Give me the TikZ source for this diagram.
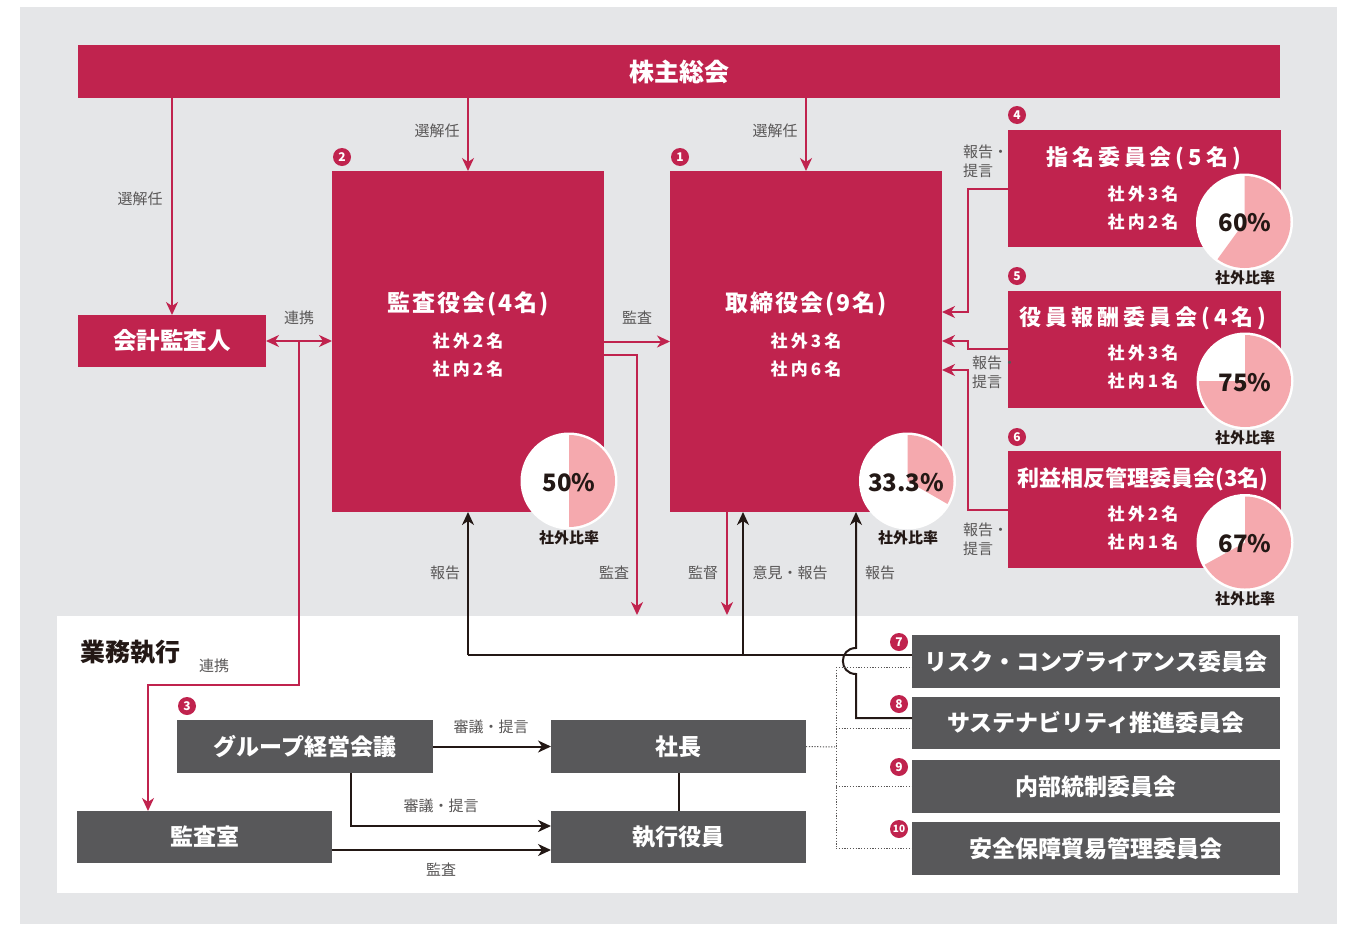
\documentclass[tikz,border=0pt]{standalone}
\usepackage{fontspec}
\setmainfont{Noto Sans CJK JP}
\usetikzlibrary{arrows.meta,calc}
\definecolor{crim}{HTML}{C0234E}
\definecolor{bgc}{HTML}{E5E6E8}
\definecolor{dgray}{HTML}{58585A}
\definecolor{pinkc}{HTML}{F5A9AE}
\definecolor{lblc}{HTML}{595757}
\definecolor{ink}{HTML}{231815}
\newcommand{\mypie}[4]{%
  \fill[white] (#2,#3) circle[radius=48.5];
  \begin{scope}[shift={(#2,#3)}, y=1pt]
    \fill[pinkc] (0,0) -- (0,46) arc[start angle=90, end angle={90-3.6*#4}, radius=46] -- cycle;
  \end{scope}
}
\tikzset{
  crbox/.style={fill=crim, inner sep=0pt, outer sep=0pt},
  gybox/.style={fill=dgray, text=white, font=\bfseries\fontsize{23}{25}\selectfont, inner sep=0pt, outer sep=0pt},
  sz/.style 2 args={minimum width=#1pt, minimum height=#2pt},
  crline/.style={draw=crim, line width=2pt},
  cra/.style={crline, -{Stealth[length=13pt,width=12pt,inset=4pt]}},
  crab/.style={crline, {Stealth[length=13pt,width=12pt,inset=4pt]}-{Stealth[length=13pt,width=12pt,inset=4pt]}},
  bkline/.style={draw=ink, line width=2pt},
  bka/.style={bkline, -{Stealth[length=13pt,width=12pt,inset=4pt]}},
  dotln/.style={draw=lblc, line width=1pt, dash pattern=on 1.2pt off 1.6pt},
  lbl/.style={text=lblc, font=\fontsize{15}{19}\selectfont, inner sep=0pt},
  maintitle/.style={text=white, font=\bfseries\fontsize{23}{25}\selectfont\addfontfeature{LetterSpace=8}, inner sep=0pt},
  comtitle/.style={text=white, font=\bfseries\fontsize{22}{24}\selectfont\addfontfeature{LetterSpace=18}, inner sep=0pt},
  subtxt/.style={text=white, font=\bfseries\fontsize{17}{19}\selectfont\addfontfeature{LetterSpace=18}, inner sep=0pt},
  pct/.style={text=ink, font=\bfseries\fontsize{24}{26}\selectfont, inner sep=0pt},
  ratio/.style={text=ink, font=\bfseries\fontsize{15}{17}\selectfont, inner sep=0pt},
  badge/.style={circle, fill=crim, text=white, font=\bfseries\fontsize{12}{12}\selectfont, minimum size=18pt, inner sep=0pt},
}
\begin{document}
\begin{tikzpicture}[x=1pt,y=-1pt]
\useasboundingbox (0,0) rectangle (1352,924);
\fill[white] (0,0) rectangle (1352,924);
\fill[bgc] (20,7) rectangle (1337,924);
\fill[white] (57,616) rectangle (1298,893);

% ---------- crimson boxes
\node[crbox, sz={1202}{53}, text=white, font=\bfseries\fontsize{25}{27}\selectfont] (sh) at (679,71.5) {株主総会};
\node[crbox, sz={188}{52}, text=white, font=\bfseries\fontsize{23.5}{25}\selectfont] (ka) at (172,341) {会計監査人};
\node[crbox, sz={272}{341}] (kansa) at (468,341.5) {};
\node[crbox, sz={272}{341}] (tori) at (806,341.5) {};
\node[crbox, sz={273}{117}] (shimei) at (1144.5,188.5) {};
\node[crbox, sz={273}{117}] (houshu) at (1144.5,349.5) {};
\node[crbox, sz={273}{117}] (rieki) at (1144.5,509.5) {};

% texts in crimson boxes
\node[maintitle] (kansaT) at (468,304) {監査役会(4\hspace{2pt}名)};
\node[subtxt] (kansaA) at (468,341) {社外2名};
\node[subtxt] (kansaB) at (468,369) {社内2名};
\node[maintitle] (toriT) at (806,304) {取締役会(9\hspace{2pt}名)};
\node[subtxt] (toriA) at (806,341) {社外3名};
\node[subtxt] (toriB) at (806,369) {社内6名};
\node[comtitle] (shimeiT) at (1143.5,158) {指名委員会(5名)};
\node[subtxt] (shimeiA) at (1143,194) {社外3名};
\node[subtxt] (shimeiB) at (1143,222) {社内2名};
\node[comtitle] (houshuT) at (1143,318) {役員報酬委員会(4名)};
\node[subtxt] (houshuA) at (1143,353) {社外3名};
\node[subtxt] (houshuB) at (1143,381) {社内1名};
\node[text=white, font=\bfseries\fontsize{22}{24}\selectfont, inner sep=0pt] (riekiT) at (1143,479) {利益相反管理委員会(3名)};
\node[subtxt] (riekiA) at (1143,514) {社外2名};
\node[subtxt] (riekiB) at (1143,542) {社内1名};

% ---------- gray boxes
\node[gybox, sz={256}{53}] (gm) at (305,746.5) {グループ経営会議};
\node[gybox, sz={255}{52}] (kr) at (204.5,837) {監査室};
\node[gybox, sz={255}{53}] (pres) at (678.5,746.5) {社長};
\node[gybox, sz={255}{52}] (exec) at (678.5,837) {執行役員};
\node[gybox, sz={368}{53}] (c7) at (1096,661.5) {リスク・コンプライアンス委員会};
\node[gybox, sz={368}{52}] (c8) at (1096,723) {サステナビリティ推進委員会};
\node[gybox, sz={368}{53}] (c9) at (1096,786.5) {内部統制委員会};
\node[gybox, sz={368}{53}] (c10) at (1096,848.5) {安全保障貿易管理委員会};
\node[text=ink, font=\bfseries\fontsize{25}{27}\selectfont, inner sep=0pt] (gyomu) at (130,652) {業務執行};

% ---------- coordinates
\coordinate (r1) at (299,685);
\coordinate (r2) at (148,685);
\coordinate (k1) at (637,355);
\coordinate (kd) at (637,615);
\coordinate (sd) at (727,615);
\coordinate (h1) at (468,655);
\coordinate (h2) at (743,655);
\coordinate (s1) at (856,718);
\coordinate (n1) at (968,312);
\coordinate (p1) at (968,349);
\coordinate (p2) at (968,341);
\coordinate (q1) at (968,370);
\coordinate (g1) at (351,826);
\coordinate (g2) at (332,850);
\coordinate (d0) at (836,747);
\coordinate (dt) at (836,667);
\coordinate (dm) at (836,728);
\coordinate (d9) at (836,786);
\coordinate (db) at (836,848);

% ---------- crimson connectors
\draw[cra] (ka.north |- sh.south) -- (ka.north);
\draw[cra] (kansa.north |- sh.south) -- (kansa.north);
\draw[cra] (tori.north |- sh.south) -- (tori.north);
\draw[crab] (ka.east) -- (ka.east -| kansa.west);
\draw[cra] (r1 |- ka.east) -- (r1) -- (r2) -- (r2 |- kr.north);
\draw[cra] (kansa.east) -- (kansa.east -| tori.west);
\draw[cra] (k1 -| kansa.east) -- (k1) -- (kd);
\draw[cra] (sd |- tori.south) -- (sd);
\draw[cra] (shimei.west) -| (n1) -- (n1 -| tori.east);
\draw[cra] (p1 -| houshu.west) -- (p1) -- (p2) -- (p2 -| tori.east);
\draw[cra] (rieki.west) -| (q1) -- (q1 -| tori.east);

% ---------- black connectors
\draw[bka] (h1) -- (kansa.south);
\draw[bka] (h2) -- (h2 |- tori.south);
\draw[bkline] (h1) -- (h1 -| c7.west);
\draw[bka] (s1 -| c8.west) -- (s1) -- (856,674) .. controls (838.5,674) and (838.5,648) .. (856,648) -- (856,512);
\draw[bka] (gm.east) -- (pres.west);
\draw[bka] (g1 |- gm.south) -- (g1) -- (g1 -| exec.west);
\draw[bka] (g2) -- (g2 -| exec.west);
\draw[bkline] (pres.south) -- (exec.north);

% ---------- dotted
\draw[dotln] (pres.east) -- (d0);
\draw[dotln] (dt) -- (db);
\draw[dotln] (dt) -- (dt -| c7.west);
\draw[dotln] (dm) -- (dm -| c8.west);
\draw[dotln] (d9) -- (d9 -| c9.west);
\draw[dotln] (db) -- (db -| c10.west);

% ---------- pies
\mypie{pk}{569}{481}{50}
\mypie{pt}{907.5}{481}{33.3}
\mypie{p4}{1244.5}{222}{60}
\mypie{p5}{1245}{381}{75}
\mypie{p6}{1245}{542.5}{67}
\node[pct] (pkT) at (569,483) {50\%};
\node[pct] (ptT) at (906,483) {33.3\%};
\node[pct] (p4T) at (1245,223) {60\%};
\node[pct] (p5T) at (1245,383) {75\%};
\node[pct] (p6T) at (1245,544) {67\%};
\node[ratio] (pkR) at (569,538) {社外比率};
\node[ratio] (ptR) at (908,538) {社外比率};
\node[ratio] (p4R) at (1245,278) {社外比率};
\node[ratio] (p5R) at (1245,438) {社外比率};
\node[ratio] (p6R) at (1245,599) {社外比率};

% ---------- badges
\node[badge] (b1) at (680,157) {1};
\node[badge] (b2) at (342,157) {2};
\node[badge] (b3) at (187,706) {3};
\node[badge] (b4) at (1017,115) {4};
\node[badge] (b5) at (1017,276) {5};
\node[badge] (b6) at (1017,437) {6};
\node[badge] (b7) at (899,642) {7};
\node[badge] (b8) at (899,704) {8};
\node[badge] (b9) at (899,767) {9};
\node[badge, font=\bfseries\fontsize{10}{10}\selectfont] (b10) at (899,829) {10};

% ---------- labels
\node[lbl] (l1) at (140,199) {選解任};
\node[lbl] (l2) at (437,131) {選解任};
\node[lbl] (l3) at (775,131) {選解任};
\node[lbl] (l4) at (299,318) {連携};
\node[lbl] (l5) at (214,666) {連携};
\node[lbl] (l6) at (637,318) {監査};
\node[lbl] (l7) at (445,573) {報告};
\node[lbl] (l8) at (614,573) {監査};
\node[lbl] (l9) at (703,573) {監督};
\node[lbl] (l10) at (790,573) {意見・報告};
\node[lbl] (l11) at (880,573) {報告};
\node[lbl, align=left, anchor=west] (l12) at (963,161) {報告・\\提言};
\node[lbl, align=left, anchor=west] (l13) at (972,372) {報告・\\提言};
\node[lbl, align=left, anchor=west] (l14) at (963,539) {報告・\\提言};
\node[lbl] (l15) at (491,727) {審議・提言};
\node[lbl] (l16) at (441,806) {審議・提言};
\node[lbl] (l17) at (441,870) {監査};
\end{tikzpicture}
\end{document}
